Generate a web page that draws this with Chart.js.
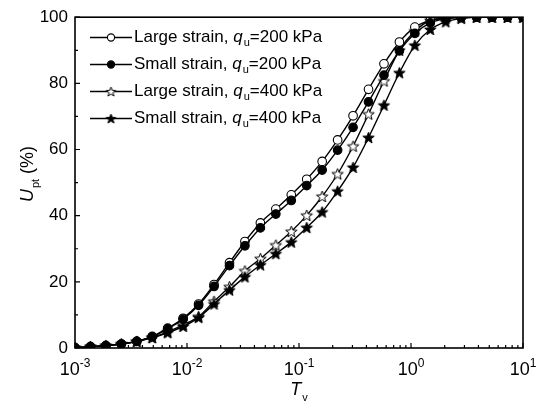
<!DOCTYPE html>
<html>
<head>
<meta charset="utf-8">
<script src="https://cdn.jsdelivr.net/npm/chart.js@4/dist/chart.umd.min.js"></script>
<style>
  html, body { margin: 0; padding: 0; background: #fff; }
  #wrap { width: 542px; height: 401px; position: relative; }
</style>
</head>
<body>
<div id="wrap"><canvas id="cv"></canvas></div>
<script>
// T_v sample points (log-spaced, 30 points from 1e-3 to 1e1)
const tv = [
    0.001, 0.001374, 0.001887, 0.002593, 0.003562, 0.004894, 0.006723, 0.009237, 0.01269, 0.01743,
    0.02395, 0.0329, 0.0452, 0.0621, 0.08532, 0.1172, 0.161, 0.2212, 0.3039, 0.4175,
    0.5736, 0.788, 1.0826, 1.4874, 2.0434, 2.8072, 3.8566, 5.2983, 7.2790, 10
];

// U_pt (%) values
const largeStrain200 = [0.1, 0.4, 0.7, 1.2, 2.0, 3.5, 6.0, 9.0, 13.3, 19.2, 25.8, 32.2, 37.8, 42.0, 46.3, 51.0, 56.4, 62.9, 70.2, 78.2, 85.9, 92.5, 97.0, 99.0, 99.7, 100, 100, 100, 100, 100];
const smallStrain200 = [0.1, 0.4, 0.7, 1.2, 2.0, 3.4, 5.8, 8.7, 12.9, 18.6, 24.9, 30.9, 36.3, 40.5, 44.6, 49.1, 53.8, 59.8, 66.7, 74.4, 82.5, 89.8, 95.1, 98.3, 99.5, 99.9, 100, 100, 100, 100];
const largeStrain400 = [0.1, 0.4, 0.7, 1.2, 2.0, 3.2, 4.9, 7.0, 9.5, 14.1, 18.5, 23.3, 27.0, 31.1, 35.2, 40.1, 45.8, 52.6, 61.0, 70.7, 80.7, 90.0, 95.8, 99.0, 99.7, 100, 100, 100, 100, 100];
const smallStrain400 = [0.1, 0.4, 0.7, 1.2, 2.0, 3.1, 4.6, 6.5, 9.2, 13.3, 17.5, 21.5, 25.1, 28.5, 32.0, 36.4, 41.1, 47.4, 54.6, 63.6, 73.4, 83.2, 91.5, 96.3, 98.6, 99.6, 100, 100, 100, 100];

// legend text pieces
const strainNames = ['Large strain', 'Small strain', 'Large strain', 'Small strain'];
const quValues = ['200', '200', '400', '400'];

// axis ticks
const xDecades = [-3, -2, -1, 0, 1];
const yTicks = [0, 20, 40, 60, 80, 100];

const FONT = 'Arial, "Liberation Sans", sans-serif';

// 5-point star marker as a small canvas
function makeStar(fill, R) {
    const size = Math.ceil(R * 2 + 3);
    const c = document.createElement('canvas');
    c.width = size; c.height = size;
    const g = c.getContext('2d');
    const cx = size / 2, cy = size / 2 + 0.5;
    g.beginPath();
    for (let k = 0; k < 10; k++) {
        const r = k % 2 ? R * 0.42 : R;
        const a = -Math.PI / 2 + k * Math.PI / 5;
        const px = cx + r * Math.cos(a), py = cy + r * Math.sin(a);
        if (k === 0) g.moveTo(px, py); else g.lineTo(px, py);
    }
    g.closePath();
    g.fillStyle = fill;
    g.fill();
    g.lineWidth = 1;
    g.strokeStyle = '#000';
    g.stroke();
    return c;
}

const openStar = makeStar('#fff', 6);
const fullStar = makeStar('#000', 6);
const openStarSmall = makeStar('#fff', 5);
const fullStarSmall = makeStar('#000', 5);

// filled markers sit on top of the open ones
const markers = [
    { style: 'circle', fill: '#fff', legend: 'circle', order: 1 },
    { style: 'circle', fill: '#000', legend: 'circle', order: 0 },
    { style: openStar, fill: '#fff', legend: openStarSmall, order: 3 },
    { style: fullStar, fill: '#000', legend: fullStarSmall, order: 2 }
];

const seriesValues = [largeStrain200, smallStrain200, largeStrain400, smallStrain400];

function buildDatasets() {
    return seriesValues.map((vals, i) => ({
        label: strainNames[i] + ', qu=' + quValues[i] + ' kPa',
        data: vals.map((v, j) => ({ x: tv[j], y: v })),
        order: markers[i].order,
        borderColor: '#000',
        borderWidth: 1.4,
        pointStyle: markers[i].style,
        pointRadius: 4.3,
        pointBorderWidth: 1.1,
        pointBorderColor: '#000',
        pointBackgroundColor: markers[i].fill,
        cubicInterpolationMode: 'monotone',
        clip: { left: 0, top: 0, right: 0, bottom: 0 },
        fill: false
    }));
}

// draw a run of text pieces (normal / italic / sub / sup)
function drawRich(ctx, parts, x, y, size) {
    let cx = x;
    parts.forEach(p => {
        let fs = size, dy = 0, st = '';
        if (p.sub) { fs = Math.round(size * 0.62); dy = size * 0.32; }
        if (p.sup) { fs = Math.round(size * 0.68); dy = -size * 0.42; }
        if (p.it) st = 'italic ';
        ctx.font = st + fs + 'px ' + FONT;
        ctx.fillText(p.t, cx, y + dy);
        cx += ctx.measureText(p.t).width + (p.gap || 0);
    });
    return cx - x;
}

function measureRich(ctx, parts, size) {
    let w = 0;
    parts.forEach(p => {
        let fs = size, st = '';
        if (p.sub) fs = Math.round(size * 0.62);
        if (p.sup) fs = Math.round(size * 0.68);
        if (p.it) st = 'italic ';
        ctx.font = st + fs + 'px ' + FONT;
        w += ctx.measureText(p.t).width + (p.gap || 0);
    });
    return w;
}

// frame, inward ticks, decade labels, axis titles and legend
const decorPlugin = {
    id: 'decor',
    afterDraw(chart) {
        const ctx = chart.ctx;
        const a = chart.chartArea;
        const xs = chart.scales.x, ys = chart.scales.y;
        ctx.save();
        ctx.strokeStyle = '#000';
        ctx.fillStyle = '#000';

        // frame
        ctx.lineWidth = 1.6;
        ctx.strokeRect(a.left, a.top, a.right - a.left, a.bottom - a.top);

        // x ticks (inward)
        ctx.lineWidth = 1.2;
        ctx.beginPath();
        xDecades.forEach((e, k) => {
            const px = xs.getPixelForValue(Math.pow(10, e));
            ctx.moveTo(px, a.bottom); ctx.lineTo(px, a.bottom - 5);
            if (k < xDecades.length - 1) {
                for (let m = 2; m <= 9; m++) {
                    const mx = xs.getPixelForValue(m * Math.pow(10, e));
                    ctx.moveTo(mx, a.bottom); ctx.lineTo(mx, a.bottom - 3);
                }
            }
        });
        // y ticks (inward)
        for (let v = 0; v <= 100; v += 10) {
            const py = ys.getPixelForValue(v);
            const len = v % 20 === 0 ? 5 : 3;
            ctx.moveTo(a.left, py); ctx.lineTo(a.left + len, py);
        }
        ctx.stroke();

        // x decade labels 10^n
        ctx.textBaseline = 'alphabetic';
        ctx.textAlign = 'left';
        xDecades.forEach(e => {
            const px = xs.getPixelForValue(Math.pow(10, e));
            const parts = [{ t: '10' }, { t: String(e), sup: true }];
            const w = measureRich(ctx, parts, 18);
            drawRich(ctx, parts, px - w / 2, 375, 18);
        });

        // x title T_v
        const tParts = [{ t: 'T', it: true, gap: 1 }, { t: 'v', sub: true }];
        const tw = measureRich(ctx, tParts, 18);
        drawRich(ctx, tParts, (a.left + a.right) / 2 - tw / 2, 395, 18);

        // y title U_pt (%)
        const uParts = [{ t: 'U', it: true, gap: 1 }, { t: 'pt', sub: true }, { t: ' (%)' }];
        const uw = measureRich(ctx, uParts, 18);
        ctx.save();
        ctx.translate(33, 174);
        ctx.rotate(-Math.PI / 2);
        drawRich(ctx, uParts, -uw / 2, 0, 18);
        ctx.restore();

        // legend
        const lx0 = 90, lx1 = 132, ly0 = 37.5, step = 27;
        strainNames.forEach((name, i) => {
            const y = ly0 + i * step;
            ctx.lineWidth = 1.4;
            ctx.beginPath();
            ctx.moveTo(lx0, y); ctx.lineTo(lx1, y);
            ctx.stroke();
            const mk = markers[i];
            const mx = (lx0 + lx1) / 2;
            if (mk.legend === 'circle') {
                ctx.beginPath();
                ctx.arc(mx, y, 3.6, 0, Math.PI * 2);
                ctx.fillStyle = mk.fill;
                ctx.fill();
                ctx.lineWidth = 1.1;
                ctx.stroke();
            } else {
                ctx.drawImage(mk.legend, mx - mk.legend.width / 2, y - mk.legend.height / 2);
            }
            ctx.fillStyle = '#000';
            ctx.textBaseline = 'middle';
            drawRich(ctx, [
                { t: name + ', ' },
                { t: 'q', it: true, gap: 1 },
                { t: 'u', sub: true },
                { t: '=' + quValues[i] + ' kPa' }
            ], 134, y, 17);
        });

        ctx.restore();
    }
};

function createChart() {
    const ctx = document.getElementById('cv').getContext('2d');
    return new Chart(ctx, {
        type: 'line',
        data: { datasets: buildDatasets() },
        plugins: [decorPlugin],
        options: {
            responsive: true,
            maintainAspectRatio: false,
            animation: false,
            layout: { padding: { top: 16, right: 19, left: 0, bottom: 0 } },
            plugins: {
                legend: { display: false },
                tooltip: { enabled: false },
                title: { display: false }
            },
            scales: {
                x: {
                    type: 'logarithmic',
                    min: 1e-3,
                    max: 10,
                    grid: { display: false },
                    border: { display: false },
                    ticks: { display: false },
                    afterFit(scale) { scale.height = 53; }
                },
                y: {
                    min: 0,
                    max: 100,
                    afterBuildTicks(scale) { scale.ticks = yTicks.map(v => ({ value: v })); },
                    grid: { display: false, drawTicks: false },
                    border: { display: false },
                    ticks: {
                        color: '#000',
                        padding: 7,
                        font: { size: 17, family: FONT }
                    },
                    afterFit(scale) { scale.width = 75; }
                }
            }
        }
    });
}

createChart();
</script>
</body>
</html>
